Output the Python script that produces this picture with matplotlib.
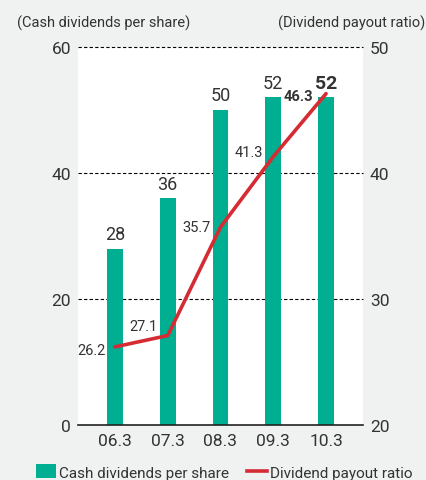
import matplotlib
matplotlib.use("Agg")
import matplotlib.pyplot as plt
from matplotlib.patches import Patch
from matplotlib.lines import Line2D
from matplotlib import font_manager

names = {f.name for f in font_manager.fontManager.ttflist}
fam = [n for n in ["Liberation Sans Narrow", "Roboto", "DejaVu Sans"] if n in names]
plt.rcParams['font.family'] = fam

categories = ["06.3", "07.3", "08.3", "09.3", "10.3"]
dividends = [28, 36, 50, 52, 52]
payout = [26.2, 27.1, 35.7, 41.3, 46.3]
left_ticks = [0, 20, 40, 60]
right_ticks = [20, 30, 40, 50]

BG = "#f0f1f1"
TEAL = "#00ae92"
RED = "#d52b33"
TXT = "#333333"

fig = plt.figure(figsize=(4.27, 4.81), dpi=100, facecolor=BG)
ax = fig.add_axes([78/427, 55/481, 285/427, 378/481])
ax.set_facecolor("white")
x = list(range(len(categories)))
ax.bar(x, dividends, width=0.3, color=TEAL, zorder=2)
ax.set_xlim(-0.7, 4.7)
ax.set_ylim(0, 60)
ax.set_yticks(left_ticks)
ax.set_xticks(x)
ax.set_xticklabels(categories)
for y in left_ticks[1:]:
    ax.axhline(y, color="black", lw=0.8, ls=(0, (3, 2)), zorder=1, clip_on=False)
for s in ["left", "right", "top"]:
    ax.spines[s].set_visible(False)
ax.spines["bottom"].set_color("#222222")
ax.spines["bottom"].set_linewidth(1.2)
ax.tick_params(axis="both", length=0, colors=TXT, labelsize=12.5)
ax.tick_params(axis="y", pad=5)
ax.tick_params(axis="x", pad=6)

for i, v in enumerate(dividends):
    last = i == len(dividends) - 1
    ax.annotate(str(v), (i, v), xytext=(0, 4), textcoords="offset points",
                ha="center", va="bottom", fontsize=14 if last else 13,
                fontweight="bold" if last else "normal", color=TXT)

ax2 = ax.twinx()
ax2.set_ylim(20, 50)
ax2.set_yticks(right_ticks)
for s in ["left", "right", "top", "bottom"]:
    ax2.spines[s].set_visible(False)
ax2.tick_params(axis="y", length=0, colors=TXT, labelsize=12.5, pad=5)
ax2.plot(x, payout, color=RED, lw=2.6, zorder=3, solid_capstyle="round")

offsets = [(-7, -2), (-7, 7), (-7, 0), (-7, 3), (-9, -2)]
for i, v in enumerate(payout):
    last = i == len(payout) - 1
    ax2.annotate(f"{v}", (i, v), xytext=offsets[i], textcoords="offset points",
                 ha="right", va="center", fontsize=10.5,
                 fontweight="bold" if last else "normal", color=TXT)

fig.text(17/427, 1 - 23/481, "(Cash dividends per share)", ha="left", va="center",
         fontsize=10.5, color=TXT)
fig.text(425/427, 1 - 23/481, "(Dividend payout ratio)", ha="right", va="center",
         fontsize=10.5, color=TXT)

handles = [Patch(facecolor=TEAL, edgecolor="none"),
           Line2D([0], [0], color=RED, lw=2.6)]
fig.legend(handles, ["Cash dividends per share", "Dividend payout ratio"],
           loc="center", bbox_to_anchor=(224/427, 1 - 473/481), ncol=2,
           frameon=False, fontsize=11, handlelength=1.3, handletextpad=0.2,
           columnspacing=1.2, handleheight=1.0, labelcolor=TXT)

fig.savefig("out.png", dpi=100, facecolor=BG)
